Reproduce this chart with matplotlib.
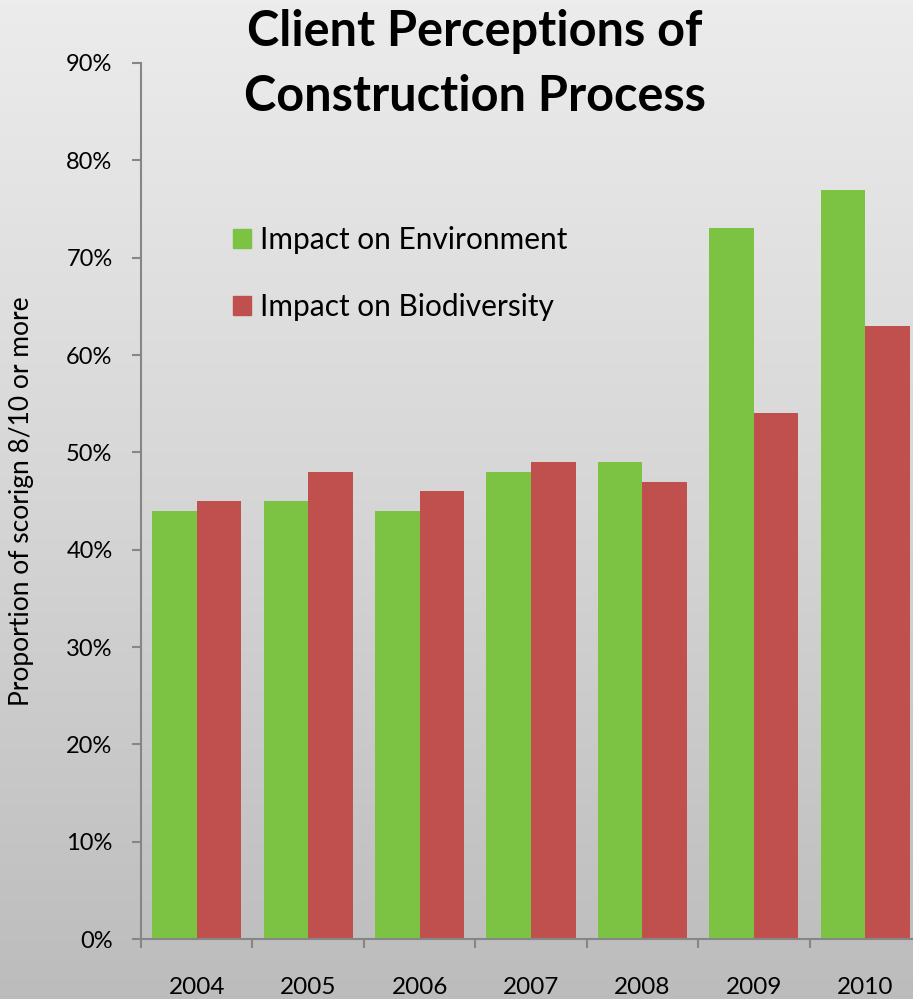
import matplotlib
matplotlib.use("Agg")
import matplotlib.pyplot as plt
import numpy as np
from matplotlib.patches import Patch
from matplotlib.ticker import PercentFormatter
from matplotlib.colors import LinearSegmentedColormap

years = ["2004", "2005", "2006", "2007", "2008", "2009", "2010"]
environment = [44, 45, 44, 48, 49, 73, 77]
biodiversity = [45, 48, 46, 49, 47, 54, 63]
yticks = list(range(0, 91, 10))

plt.rcParams['font.family'] = ['Lato', 'DejaVu Sans']

fig = plt.figure(figsize=(9.13, 9.99), dpi=100)

# background gradient
bg = fig.add_axes([0, 0, 1, 1], zorder=-10)
grad = np.linspace(0, 1, 256).reshape(-1, 1)
cmap = LinearSegmentedColormap.from_list("bg", ["#bcbcbc", "#d6d6d6", "#ececec"])
bg.imshow(grad, aspect="auto", cmap=cmap, origin="lower", extent=[0, 1, 0, 1])
bg.axis("off")

ax = fig.add_axes([141/913, 60/999, (921-141)/913, (939-63)/999])
ax.patch.set_alpha(0)
x = np.arange(len(years))
w = 0.4
ax.bar(x - w/2, environment, w, color="#7cc243", label="Impact on Environment")
ax.bar(x + w/2, biodiversity, w, color="#c0504d", label="Impact on Biodiversity")

ax.set_xlim(-0.5, len(years) - 0.5)
ax.set_ylim(0, 90)
ax.set_yticks(yticks)
ax.yaxis.set_major_formatter(PercentFormatter(decimals=0))
ax.set_xticks(x)
ax.set_xticklabels(years)
ax.set_xticks(np.arange(-0.5, len(years), 1), minor=True)
ax.tick_params(axis="x", which="major", length=0, labelsize=17.5, pad=27.5)
ax.tick_params(axis="x", which="minor", length=6.5, color="#868686", width=1.5)
ax.tick_params(axis="y", length=6.5, color="#868686", width=1.5, labelsize=17, pad=14)
for s in ["top", "right"]:
    ax.spines[s].set_visible(False)
for s in ["left", "bottom"]:
    ax.spines[s].set_color("#868686")
    ax.spines[s].set_linewidth(1.5)

ax.set_ylabel("Proportion of scorign 8/10 or more", fontsize=19, va="center")
ax.yaxis.set_label_coords(-(141 - 22) / 780, 0.50)

handles = [Patch(color="#7cc243"), Patch(color="#c0504d")]
ax.legend(handles, ["Impact on Environment", "Impact on Biodiversity"],
          loc="upper left", bbox_to_anchor=(0.103, 0.828), frameon=False,
          fontsize=21.5, handlelength=0.6, handleheight=0.6, handletextpad=0.3,
          labelspacing=1.33, borderaxespad=0)

fig.text(475/913, 1 - 64/999, "Client Perceptions of\nConstruction Process",
         ha="center", va="center", fontsize=35, fontweight="bold", linespacing=1.55)

fig.savefig("out.png", dpi=100)
